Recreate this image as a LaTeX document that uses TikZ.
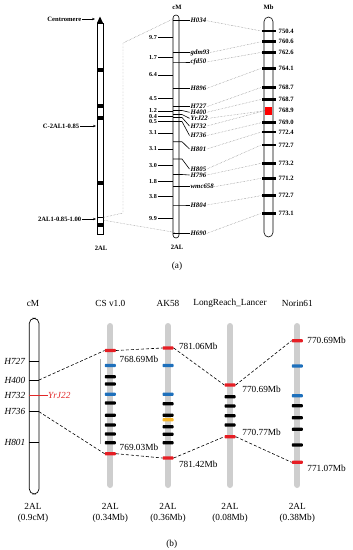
\documentclass[tikz,border=0pt]{standalone}
\usepackage{fontspec}
\setmainfont{Liberation Serif}
\usetikzlibrary{arrows.meta}
\definecolor{bandred}{RGB}{230,30,36}
\definecolor{bandblue}{RGB}{30,112,188}
\definecolor{bandgold}{RGB}{246,182,40}
\definecolor{bargray}{RGB}{206,206,206}
\definecolor{yrred}{RGB}{226,40,40}

\begin{document}
\begin{tikzpicture}[x=1pt, y=-1pt, every node/.style={inner sep=0.5pt},
  fa/.style={font=\fontsize{6.6}{7}\selectfont\bfseries},
  fnum/.style={font=\fontsize{6.1}{7}\selectfont\bfseries, inner sep=0pt, anchor=east},
  fmark/.style={font=\fontsize{6.8}{7}\selectfont\bfseries\itshape, anchor=west},
  fb/.style={font=\fontsize{9.3}{11}\selectfont},
  mbband/.style={rectangle, fill=black, minimum width=14pt, minimum height=2.8pt, inner sep=0pt},
  band/.style={rectangle, rounded corners=0.8pt, minimum width=11pt, minimum height=3.3pt, inner sep=0pt},
  bar/.style={line width=6pt, line cap=round, bargray},
  dots/.style={densely dotted, black!55, line width=0.45pt},
  link/.style={dash pattern=on 3pt off 2pt, line width=0.6pt},
  pointer/.style={-{Stealth[length=3pt,width=2.4pt]}, line width=0.4pt}]
  \useasboundingbox (0,0) rectangle (353,550);

  % (a) deletion bin, genetic map and physical map
  \draw[line width=0.6pt] (97,23) rectangle (103,234);
  \fill (97,23) -- (100,16.5) -- (103,23) -- cycle;
  \foreach \ya/\yb in {68/72, 104/107.5, 116/119.5, 181/184.5, 223/226.5}
    \fill (97,\ya) rectangle (103,\yb);
  \draw[line width=0.4pt] (97,217) -- (103,217);
  \node[fa, anchor=east] (cen) at (82,19) {Centromere};
  \node[fa, anchor=east] (bin1) at (80,126) {C-2AL1-0.85};
  \node[fa, anchor=east] (bin2) at (82,219) {2AL1-0.85-1.00};
  \coordinate (cen-tip) at (95,19);
  \coordinate (bin1-tip) at (96,126);
  \coordinate (bin2-tip) at (96,219);
  \draw[pointer] (cen) -- (cen-tip);
  \draw[pointer] (bin1) -- (bin1-tip);
  \draw[pointer] (bin2) -- (bin2-tip);
  \node[fa] (chr-a) at (101,248) {2AL};

  % genetic map
  \draw[line width=0.6pt, rounded corners=3pt] (173,15) rectangle (179,238);
  \node[fa] (cm-head) at (177,7) {cM};
  \node[fa] (cm-foot) at (177,247) {2AL};
  \foreach \i/\y/\v in {1/37.5/9.7, 2/57.3/1.7, 3/75/6.4, 4/98.3/4.5, 5/111/1.2, 6/116.5/0.4, 7/121.5/0.5,
      8/133/3.1, 9/149/3.1, 10/165.7/3.0, 11/181.3/1.8, 12/196.3/3.8, 13/218.7/9.9} {
    \draw[line width=0.6pt] (158,\y) -- (173,\y);
    \node[fnum] (dist\i) at (157,\y) {\v};
  }
  \foreach \i/\n/\yc/\yl in {1/H034/20.7/20.7, 2/gdm93/52.5/52.5, 3/cfd50/62/62, 4/H896/88.3/88.3,
      5/H727/106.7/106.7, 6/H400/110.5/112.3, 7/YrJ22/114.5/118.3, 8/H732/117.5/126,
      9/H736/121.5/135.5, 10/H801/141.7/149, 11/H805/159/169, 12/H796/174.5/175,
      13/wmc658/186.7/186.7, 14/H804/205/205, 15/H690/233.3/233.3} {
    \draw[line width=0.6pt] (173,\yc) -- (182,\yc) -- (189.5,\yl);
    \node[fmark] (mk\i) at (190,\yl) {\n};
  }

  % physical map
  \draw[line width=0.6pt, rounded corners=4.5pt] (264,17) rectangle (273,237);
  \node[fa] (mb-head) at (268.5,7) {Mb};
  \foreach \i/\y/\v in {1/31/750.4, 2/41.7/760.6, 3/52.3/762.6, 4/68.3/764.1, 5/87.3/768.7, 6/99.3/768.7,
      8/122.7/769.0, 9/132/772.4, 10/145/772.7, 11/163.3/773.2, 12/178.3/771.2, 13/195.7/772.7, 14/213.3/773.1} {
    \node[mbband] (bd\i) at (268.5,\y) {};
    \node[fa, anchor=west] (bv\i) at (278,\y) {\v};
  }
  \node[rectangle, fill=red, minimum width=7pt, minimum height=8pt, inner sep=0pt] (bd7) at (268.5,110.7) {};
  \node[fa, anchor=west] (bv7) at (278,110.7) {768.9};
  \foreach \m/\b in {1/1, 2/2, 3/3, 4/4, 5/5, 6/6, 7/7, 8/7, 9/8, 10/9, 11/10, 12/11, 13/12, 14/13, 15/14}
    \draw[dots] (mk\m.east) -- (bd\b.west);

  % bin to genetic map
  \coordinate (bin-top) at (103,217.5);
  \coordinate (bin-bot) at (103,220);
  \coordinate (cm-top) at (175,18);
  \coordinate (cm-bot) at (175,232.5);
  \draw[dots] (bin-top) -- (123,213) -- (123,43) -- (cm-top);
  \draw[dots] (bin-bot) -- (cm-bot);
  \node[fb] (cap-a) at (177,266) {(a)};

  % (b) fine map and four genome assemblies
  \node[fb] (cm-b) at (33,303.3) {cM};
  \draw[line width=0.7pt, rounded corners=5pt] (29.3,318.3) rectangle (39,494);
  \foreach \i/\n/\y in {1/H727/361, 2/H400/380, 3/H736/411.7, 4/H801/442.7} {
    \draw[line width=0.6pt] (29.3,\y) -- (39,\y);
    \node[fb, anchor=east] (gm\i) at (26,\y) {\textit{\n}};
    \coordinate (gp\i) at (39,\y);
  }
  \node[fb, anchor=east] (gm5) at (26,395.7) {\textit{H732}};
  \node[fb, anchor=west, text=yrred] (yr) at (47.5,395.7) {\textit{YrJ22}};
  \coordinate (yr-start) at (29.3,395.7);
  \draw[yrred, line width=0.7pt] (yr-start) -- (yr.west);
  \node[fb, align=center] (foot-cm) at (33,513) {2AL\\(0.9cM)};

  \foreach \n/\x/\t/\f in {cs/110.3/CS v1.0/0.34Mb, ak/168/AK58/0.36Mb, lr/230/LongReach\_Lancer/0.08Mb, nr/297.3/Norin61/0.38Mb} {
    \draw[bar] (\x,326) -- (\x,485);
    \node[fb] (title-\n) at (\x,303.3) {\t};
    \node[fb, align=center] (foot-\n) at (\x,513) {2AL\\(\f)};
  }
  \draw[line width=1.4pt, black!32] (100.5,359.3) -- (100.5,444);

  \foreach \i/\y/\c in {1/350.5/bandred, 2/365.5/bandblue, 3/376.7/black, 4/384/black, 5/394.2/bandblue, 6/403/black,
      7/415.3/black, 8/425/black, 9/434/black, 10/442.7/black, 11/453.7/bandred}
    \node[band, fill=\c] (cs\i) at (110.3,\y) {};
  \foreach \i/\y/\c in {1/348/bandred, 2/365.5/bandblue, 3/394.3/bandblue, 4/403.7/black, 5/415.2/black, 6/419.7/bandgold,
      7/426.7/black, 8/434.2/black, 9/442.7/black, 10/458/bandred}
    \node[band, fill=\c] (ak\i) at (168,\y) {};
  \foreach \i/\y/\c in {1/385/bandred, 2/396.7/black, 3/406/black, 4/415.7/black, 5/425/black, 6/436.7/bandred}
    \node[band, fill=\c] (lr\i) at (230,\y) {};
  \foreach \i/\y/\c in {1/340.7/bandred, 2/366/bandblue, 3/395.7/bandblue, 4/405.7/black, 5/417.7/black,
      6/429.3/black, 7/445/black, 8/462.3/bandred}
    \node[band, fill=\c] (nr\i) at (297.3,\y) {};

  \draw[link] (gp2) -- (cs1.west);
  \draw[link] (gp3) -- (cs11.west);
  \draw[link] (cs1.east) -- (ak1.west);
  \draw[link] (cs11.east) -- (ak10.west);
  \draw[link] (ak1.east) -- (lr1.west);
  \draw[link] (ak10.east) -- (lr6.west);
  \draw[link] (lr1.east) -- (nr1.west);
  \draw[link] (lr6.east) -- (nr8.west);

  \node[fb, anchor=west] (cs-v1) at (119,359.3) {768.69Mb};
  \node[fb, anchor=west] (cs-v2) at (119,447.3) {769.03Mb};
  \node[fb, anchor=west] (ak-v1) at (178.3,346.7) {781.06Mb};
  \node[fb, anchor=west] (ak-v2) at (178.3,464.3) {781.42Mb};
  \node[fb, anchor=west] (lr-v1) at (241.7,389) {770.69Mb};
  \node[fb, anchor=west] (lr-v2) at (241.7,432.3) {770.77Mb};
  \node[fb, anchor=west] (nr-v1) at (306.7,340.7) {770.69Mb};
  \node[fb, anchor=west] (nr-v2) at (306.7,468.3) {771.07Mb};
  \node[fb] (cap-b) at (171.7,544) {(b)};
\end{tikzpicture}
\end{document}
